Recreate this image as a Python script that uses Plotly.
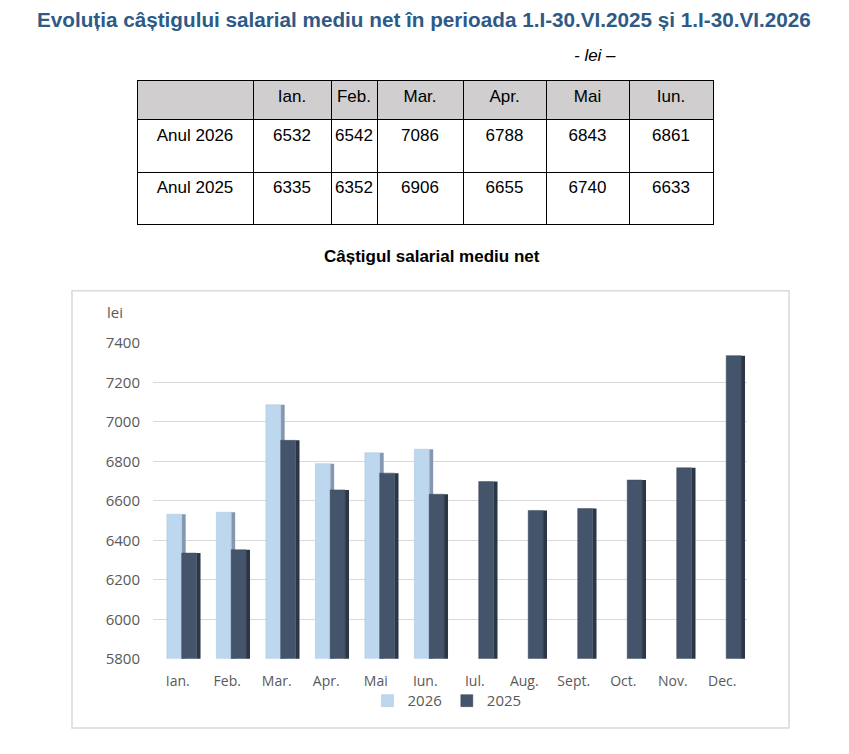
import plotly.graph_objects as go

# table data (first half of year)
table_months = ["Ian.", "Feb.", "Mar.", "Apr.", "Mai", "Iun."]
row_labels = ["Anul 2026", "Anul 2025"]
tbl_2026 = [6532, 6542, 7086, 6788, 6843, 6861]
tbl_2025 = [6335, 6352, 6906, 6655, 6740, 6633]

# chart data
months = ["Ian.", "Feb.", "Mar.", "Apr.", "Mai", "Iun.",
          "Iul.", "Aug.", "Sept.", "Oct.", "Nov.", "Dec."]
vals_2026 = [6532, 6542, 7086, 6788, 6843, 6861]
vals_2025 = [6335, 6352, 6906, 6655, 6740, 6633,
             6697, 6551, 6561, 6705, 6767, 7335]
y_ticks = [5800, 6000, 6200, 6400, 6600, 6800, 7000, 7200, 7400]

W, H = 849, 754
FONT = "Liberation Sans, Arial"
CHART_FONT = "Open Sans, Liberation Sans"
GRAY = "#595959"
BAR_W = 0.3
SIDE_W = 0.08


# screen pixel -> paper fraction (measured from earlier renders)
def px(x):
    return (x - 8) / W


def py(y):
    return 1 - ((y - 20.2) / 0.9705) / H


fig = go.Figure()

# table
cols = [row_labels] + [[a, b] for a, b in zip(tbl_2026, tbl_2025)]
fig.add_trace(go.Table(
    domain=dict(x=[px(137), px(713)], y=[py(245), py(82)]),
    columnwidth=[116, 78, 46, 86, 83, 83, 84],
    header=dict(values=[""] + table_months, fill_color="#D0CECE",
                line=dict(color="black", width=1), align="center",
                font=dict(family=FONT, size=17, color="black"), height=39),
    cells=dict(values=cols, fill_color="white",
               line=dict(color="black", width=1), align="center",
               font=dict(family=FONT, size=17, color="black"), height=52.5),
))

m26 = months[:len(vals_2026)]
# side faces (fake 3D depth), drawn first so the front faces cover them
fig.add_trace(go.Bar(x=m26, y=vals_2026, offset=-0.22 + BAR_W, width=SIDE_W,
                     marker=dict(color="#8497AE", line_width=0),
                     showlegend=False, hoverinfo="skip"))
fig.add_trace(go.Bar(name="2026", x=m26, y=vals_2026, offset=-0.22, width=BAR_W,
                     marker=dict(color="#BDD7EE", line=dict(color="#A9C3DA", width=0.5))))
fig.add_trace(go.Bar(x=months, y=vals_2025, offset=0.08 + BAR_W, width=SIDE_W,
                     marker=dict(color="#2B3646", line_width=0),
                     showlegend=False, hoverinfo="skip"))
fig.add_trace(go.Bar(name="2025", x=months, y=vals_2025, offset=0.08, width=BAR_W,
                     marker=dict(color="#44546A", line=dict(color="#3A4859", width=0.5))))

fig.update_layout(
    width=W, height=H,
    margin=dict(l=0, r=0, t=0, b=0),
    paper_bgcolor="white", plot_bgcolor="white",
    barmode="overlay",
    font=dict(family=CHART_FONT, color=GRAY),
    showlegend=True,
    legend=dict(orientation="h", x=px(447), xanchor="center", y=py(700), yanchor="middle",
                bgcolor="rgba(0,0,0,0)", font=dict(size=15, color=GRAY),
                itemwidth=30, traceorder="normal"),
    xaxis=dict(domain=[px(153), px(747)], categoryorder="array", categoryarray=months,
               showline=False, ticks="", ticklabelstandoff=12,
               tickfont=dict(size=14, color=GRAY)),
    yaxis=dict(domain=[py(658), py(343)], range=[5800, 7400], tickvals=y_ticks,
               showgrid=True, gridcolor="#D9D9D9", zeroline=False, ticks="",
               ticklabelstandoff=12, tickfont=dict(size=15, color=GRAY)),
    shapes=[dict(type="rect", xref="paper", yref="paper",
                 x0=px(72), x1=px(789), y0=py(727), y1=py(291),
                 line=dict(color="#D9D9D9", width=1.5))],
    annotations=[
        dict(text="<b>Evoluția câștigului salarial mediu net în perioada 1.I-30.VI.2025 și 1.I-30.VI.2026</b>",
             x=px(424), y=py(21), xref="paper", yref="paper", showarrow=False,
             xanchor="center", yanchor="middle",
             font=dict(size=20.7, color="#2E5A87", family=FONT)),
        dict(text="<i>- lei –</i>", x=px(595), y=py(57), xref="paper", yref="paper",
             showarrow=False, xanchor="center", yanchor="middle",
             font=dict(size=17, color="black", family=FONT)),
        dict(text="<b>Câștigul salarial mediu net</b>", x=px(432), y=py(257),
             xref="paper", yref="paper", showarrow=False,
             xanchor="center", yanchor="middle",
             font=dict(size=17, color="black", family=FONT)),
        dict(text="lei", x=px(115), y=py(312), xref="paper", yref="paper",
             showarrow=False, xanchor="center", yanchor="middle",
             font=dict(size=15, color=GRAY, family=CHART_FONT)),
    ],
)

fig.write_html("out.html")
